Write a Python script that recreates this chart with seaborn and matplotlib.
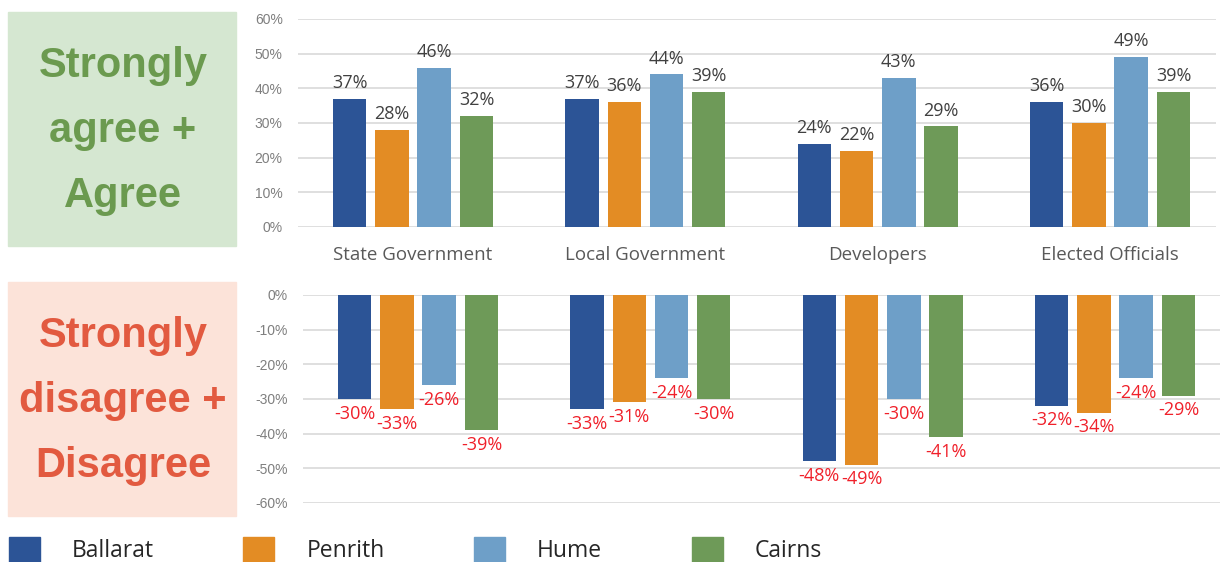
import pandas as pd
import seaborn as sns
import matplotlib.pyplot as plt
from matplotlib.patches import Rectangle, Patch
from matplotlib.ticker import FuncFormatter

# data
categories = ["State Government", "Local Government", "Developers", "Elected Officials"]
cities = ["Ballarat", "Penrith", "Hume", "Cairns"]
agree = {
    "Ballarat": [37, 37, 24, 36],
    "Penrith": [28, 36, 22, 30],
    "Hume": [46, 44, 43, 49],
    "Cairns": [32, 39, 29, 39],
}
disagree = {
    "Ballarat": [-30, -33, -48, -32],
    "Penrith": [-33, -31, -49, -34],
    "Hume": [-26, -24, -30, -24],
    "Cairns": [-39, -30, -41, -29],
}
city_colors = ["#2c5496", "#e38c24", "#6e9fc8", "#6e9a58"]
top_ticks = [0, 10, 20, 30, 40, 50, 60]
bottom_ticks = [-60, -50, -40, -30, -20, -10, 0]


def to_long(d):
    rows = []
    for city in cities:
        for cat, v in zip(categories, d[city]):
            rows.append({"category": cat, "city": city, "value": v})
    return pd.DataFrame(rows)


df_top = to_long(agree)
df_bot = to_long(disagree)

sns.set_theme(style="white")
plt.rcParams["font.family"] = ["Open Sans", "DejaVu Sans"]

W, H = 1220, 562
fig = plt.figure(figsize=(W / 100, H / 100), dpi=100)

# left-hand label boxes
fig.patches.append(Rectangle((8 / W, 1 - 246 / H), 228 / W, 234 / H,
                             transform=fig.transFigure, color="#d5e7d1", zorder=0))
fig.patches.append(Rectangle((8 / W, 1 - 516 / H), 228 / W, 234 / H,
                             transform=fig.transFigure, color="#fce3d9", zorder=0))
fig.text(123 / W, 1 - 131 / H, "Strongly\nagree +\nAgree", ha="center", va="center",
         fontsize=30, fontweight="bold", family="Liberation Sans", color="#6b9a4f",
         linespacing=1.8)
fig.text(123 / W, 1 - 401 / H, "Strongly\ndisagree +\nDisagree", ha="center", va="center",
         fontsize=30, fontweight="bold", family="Liberation Sans", color="#e25a40",
         linespacing=1.8)

ax_w = 918 / W
ax_top = fig.add_axes([298 / W, 1 - 227 / H, ax_w, 208 / H])
ax_bot = fig.add_axes([303 / W, 1 - 503 / H, ax_w, 208 / H])

bar_kw = dict(x="category", y="value", hue="city", palette=city_colors, saturation=1,
              width=0.728, gap=0.21, errorbar=None, legend=False, linewidth=0, zorder=3)
sns.barplot(data=df_top, ax=ax_top, **bar_kw)
sns.barplot(data=df_bot, ax=ax_bot, **bar_kw)

for ax, ticks in [(ax_top, top_ticks), (ax_bot, bottom_ticks)]:
    ax.set_xlim(-0.495, 3.456)
    ax.set_ylim(ticks[0], ticks[-1])
    ax.set_yticks(ticks)
    ax.yaxis.set_major_formatter(FuncFormatter(lambda v, p: f"{v:.0f}%"))
    ax.grid(axis="y", color="#d9d9d9", linewidth=1.2, zorder=0)
    ax.set_axisbelow(True)
    for s in ax.spines.values():
        s.set_visible(False)
    ax.set_xlabel("")
    ax.set_ylabel("")
    for lbl in ax.get_yticklabels():
        lbl.set_family("Liberation Sans")
    ax.tick_params(axis="y", length=0, labelsize=10, labelcolor="#7f7f7f", pad=11)
    ax.patch.set_alpha(0)

ax_top.tick_params(axis="x", length=0, labelsize=13.5, labelcolor="#595959", pad=14)
ax_bot.set_xticks([])

for c in ax_top.containers:
    ax_top.bar_label(c, fmt="%d%%", padding=5, fontsize=13, color="#404040")
for c in ax_bot.containers:
    ax_bot.bar_label(c, fmt="%d%%", padding=4, fontsize=13, color="#f0202a")

# legend along the bottom
handles = [Patch(color=col, label=city) for city, col in zip(cities, city_colors)]
fig.legend(handles=handles, loc="center left", bbox_to_anchor=(9 / W, 12 / H),
           ncol=4, frameon=False, fontsize=16.5, handlelength=1.35, handleheight=1.4,
           handletextpad=1.4, columnspacing=3.9, borderpad=0, borderaxespad=0)

fig.savefig("out.png", dpi=100)
